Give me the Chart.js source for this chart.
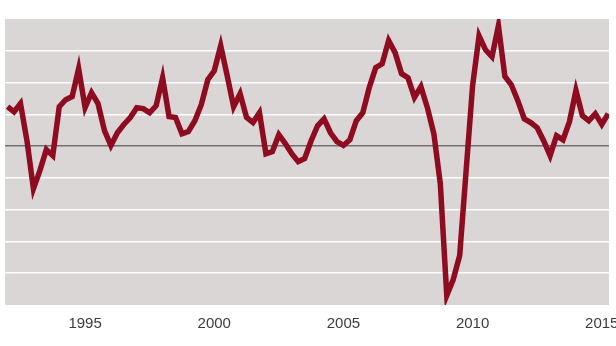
<!DOCTYPE html>
<html>
<head>
<meta charset="utf-8">
<script src="https://cdn.jsdelivr.net/npm/chart.js@4/dist/chart.umd.min.js"></script>
<style>
    html, body { margin: 0; padding: 0; background: #fff; }
    #wrap { width: 616px; height: 346px; position: relative; }
</style>
</head>
<body>
<div id="wrap"><canvas id="growthChart"></canvas></div>
<script>
// quarterly series, first quarter of 1992 to second quarter of 2015
const firstYear = 1992;
const growth = [
    1.24, 1.08, 1.34, 0.17, -1.34, -0.77, -0.11, -0.30,
    1.24, 1.46, 1.56, 2.44, 1.21, 1.68, 1.34, 0.49,
    0.02, 0.42, 0.68, 0.90, 1.21, 1.18, 1.05, 1.27,
    2.15, 0.93, 0.90, 0.39, 0.46, 0.80, 1.31, 2.09,
    2.37, 3.16, 2.22, 1.24, 1.65, 0.90, 0.74, 1.05,
    -0.24, -0.17, 0.36, 0.08, -0.24, -0.49, -0.39, 0.17,
    0.64, 0.86, 0.42, 0.14, 0.02, 0.20, 0.80, 1.05,
    1.84, 2.47, 2.59, 3.32, 2.94, 2.28, 2.15, 1.53,
    1.87, 1.21, 0.39, -1.18, -4.70, -4.20, -3.44, -0.77,
    1.90, 3.47, 3.03, 2.81, 3.79, 2.19, 1.93, 1.43,
    0.86, 0.74, 0.58, 0.17, -0.30, 0.33, 0.20, 0.77,
    1.75, 0.96, 0.80, 1.02, 0.68, 1.02
];
const tickYears = [1995, 2000, 2005, 2010, 2015];

// x position of each quarter in decimal years
const quarters = [];
for (let i = 0; i < growth.length; i++) {
    quarters.push(firstYear + i / 4);
}
const points = quarters.map(function(q, i) {
    return { x: q, y: growth[i] };
});

// grey panel behind the plot
const panel = {
    id: 'panel',
    beforeDraw: function(chart) {
        const a = chart.chartArea, c = chart.ctx;
        c.save();
        c.fillStyle = '#dad6d5';
        c.fillRect(a.left, a.top, a.right - a.left, a.bottom - a.top);
        c.restore();
    }
};

window.addEventListener('DOMContentLoaded', function() {
    const ctx = document.getElementById('growthChart');
    new Chart(ctx, {
        type: 'line',
        data: {
            datasets: [{
                data: points,
                borderColor: '#8e0b20',
                borderWidth: 5.5,
                borderJoinStyle: 'miter',
                tension: 0,
                pointRadius: 0,
                fill: false
            }]
        },
        options: {
            responsive: true,
            maintainAspectRatio: false,
            animation: false,
            layout: { padding: { top: 19, right: 7, left: 0, bottom: 0 } },
            plugins: {
                legend: { display: false },
                tooltip: { enabled: false }
            },
            scales: {
                x: {
                    type: 'linear',
                    min: 1991.9,
                    max: 2015.28,
                    grid: { display: false },
                    border: { display: false },
                    afterBuildTicks: function(s) {
                        s.ticks = tickYears.map(function(v) { return { value: v }; });
                    },
                    afterFit: function(s) {
                        s.height = 41;
                        s.paddingLeft = 0;
                        s.paddingRight = 0;
                    },
                    ticks: {
                        autoSkip: false,
                        maxRotation: 0,
                        padding: 2,
                        color: '#3c3c3c',
                        font: { family: "'Liberation Sans', Arial", size: 15 },
                        callback: function(v) { return String(v); }
                    }
                },
                y: {
                    min: -5,
                    max: 4,
                    border: { display: false },
                    afterFit: function(s) { s.width = 5; },
                    ticks: { display: false, stepSize: 1 },
                    grid: {
                        drawTicks: false,
                        lineWidth: 1.5,
                        color: function(c) {
                            if (!c.tick) return 'rgba(0,0,0,0)';
                            if (c.tick.value === 0) return '#707070';
                            if (c.tick.value === 4 || c.tick.value === -5) return 'rgba(0,0,0,0)';
                            return '#ffffff';
                        }
                    }
                }
            }
        },
        plugins: [panel]
    });
});
</script>
</body>
</html>
